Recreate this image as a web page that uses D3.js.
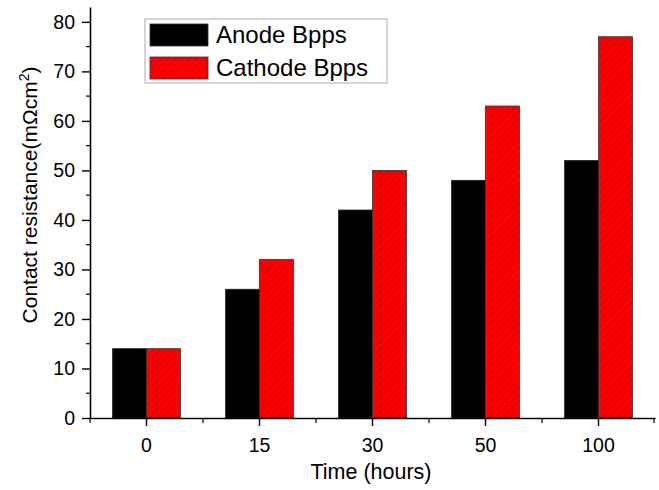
<!DOCTYPE html>
<html>
<head>
<meta charset="utf-8">
<script src="https://cdn.jsdelivr.net/npm/d3@7"></script>
<style>
  body { margin: 0; background: #fff; }
  text { font-family: "Liberation Sans", Arial, sans-serif; fill: #000; }
</style>
</head>
<body>
<svg id="chart" width="659" height="490"></svg>
<script>
// data
const times = ['0', '15', '30', '50', '100'];
const anode = [14, 26, 42, 48, 52];
const cathode = [14, 32, 50, 63, 77];
const seriesNames = ['Anode Bpps', 'Cathode Bpps'];
const yTicks = [0, 10, 20, 30, 40, 50, 60, 70, 80];

const width = 659;
const height = 490;
const margin = { left: 90, right: 4, top: 7, bottom: 72 };

const svg = d3.select('#chart');

const defs = svg.append('defs');
const hatch = defs.append('pattern')
  .attr('id', 'hatch')
  .attr('patternUnits', 'userSpaceOnUse')
  .attr('width', 5)
  .attr('height', 5)
  .attr('patternTransform', 'rotate(45)');
hatch.append('rect').attr('width', 5).attr('height', 5).attr('fill', '#ff0000');
hatch.append('line')
  .attr('x1', 0).attr('y1', 0).attr('x2', 0).attr('y2', 5)
  .attr('stroke', '#a00000').attr('stroke-width', 0.8);

const x = d3.scaleBand()
  .domain(times)
  .range([margin.left, width - margin.right]);

const y = d3.scaleLinear()
  .domain([0, 83])
  .range([height - margin.bottom, margin.top]);

const barW = x.step() * 0.3;

// bars
const groups = svg.append('g').selectAll('g')
  .data(times)
  .join('g');

groups.append('rect')
  .attr('x', (d) => x(d) + x.bandwidth() / 2 - barW)
  .attr('y', (d, i) => y(anode[i]))
  .attr('width', barW)
  .attr('height', (d, i) => y(0) - y(anode[i]))
  .attr('fill', '#000')
  .attr('stroke', '#222')
  .attr('stroke-width', 0.8);

groups.append('rect')
  .attr('x', (d) => x(d) + x.bandwidth() / 2)
  .attr('y', (d, i) => y(cathode[i]))
  .attr('width', barW)
  .attr('height', (d, i) => y(0) - y(cathode[i]))
  .attr('fill', 'url(#hatch)')
  .attr('stroke', '#333')
  .attr('stroke-width', 0.8);

// y axis
const yAxis = svg.append('g')
  .attr('transform', `translate(${margin.left},0)`)
  .call(d3.axisLeft(y).tickValues(yTicks).tickSize(8).tickPadding(7).tickSizeOuter(0));
yAxis.selectAll('.tick text').attr('font-size', 19.5);
yAxis.select('.domain').attr('stroke-width', 1.6);
yAxis.selectAll('.tick line').attr('stroke-width', 1.4);

const yMinor = d3.range(5, 83, 10);
svg.append('g').selectAll('line')
  .data(yMinor)
  .join('line')
  .attr('x1', margin.left - 4)
  .attr('x2', margin.left)
  .attr('y1', (d) => y(d))
  .attr('y2', (d) => y(d))
  .attr('stroke', '#000')
  .attr('stroke-width', 1.2);

// x axis
const xAxis = svg.append('g')
  .attr('transform', `translate(0,${y(0)})`)
  .call(d3.axisBottom(x).tickSize(8).tickPadding(12).tickSizeOuter(0));
xAxis.selectAll('.tick text').attr('font-size', 19.5);
xAxis.select('.domain').attr('stroke-width', 1.6);
xAxis.selectAll('.tick line').attr('stroke-width', 1.4);

const xMinor = times.map((d) => x(d)).concat([width - margin.right - 1]);
svg.append('g').selectAll('line')
  .data(xMinor)
  .join('line')
  .attr('x1', (d) => d)
  .attr('x2', (d) => d)
  .attr('y1', y(0))
  .attr('y2', y(0) + 5)
  .attr('stroke', '#000')
  .attr('stroke-width', 1.2);

// axis titles
svg.append('text')
  .attr('x', 371)
  .attr('y', 479)
  .attr('text-anchor', 'middle')
  .attr('font-size', 21.5)
  .text('Time (hours)');

const yTitle = svg.append('text')
  .attr('transform', `translate(37,${195}) rotate(-90)`)
  .attr('text-anchor', 'middle')
  .attr('font-size', 21);
yTitle.append('tspan').text('Contact resistance(m\u03A9cm');
yTitle.append('tspan').attr('font-size', 14).attr('dy', -8).text('2');
yTitle.append('tspan').attr('dy', 8).text(')');

// legend
const legend = svg.append('g');
legend.append('rect')
  .attr('x', 145).attr('y', 19)
  .attr('width', 242).attr('height', 64)
  .attr('fill', '#fff')
  .attr('stroke', '#aaa')
  .attr('stroke-width', 1);

const fills = ['#000', 'url(#hatch)'];
seriesNames.forEach((name, i) => {
  legend.append('rect')
    .attr('x', 150).attr('y', 24 + i * 33)
    .attr('width', 58).attr('height', 22)
    .attr('fill', fills[i])
    .attr('stroke', '#333')
    .attr('stroke-width', 0.8);
  legend.append('text')
    .attr('x', 216).attr('y', 43 + i * 33)
    .attr('font-size', 24)
    .text(name);
});
</script>
</body>
</html>
